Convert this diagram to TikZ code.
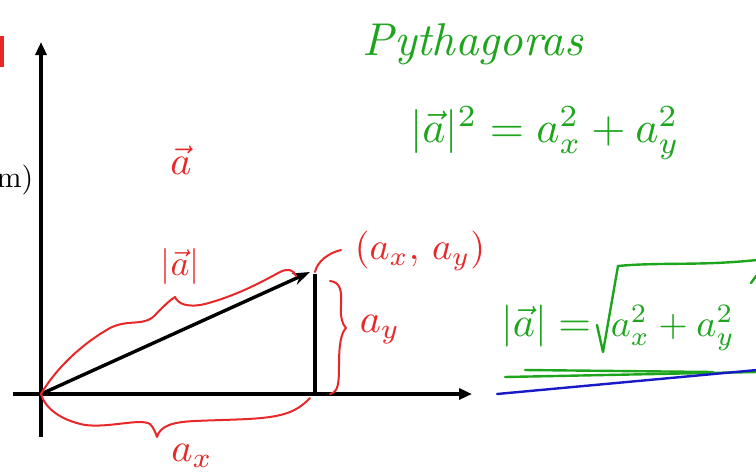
\documentclass[tikz,border=0pt]{standalone}
\usetikzlibrary{arrows.meta}
\definecolor{pen red}{RGB}{232,40,40}
\definecolor{pen green}{RGB}{30,165,30}
\definecolor{pen blue}{RGB}{25,25,200}
\begin{document}
\begin{tikzpicture}[x=1pt,y=-1pt,
  axis/.style={line width=3.4pt,-{Triangle[length=13pt,width=11pt]}},
  redline/.style={pen red,line width=2pt,line cap=round,line join=round},
  greenline/.style={pen green,line width=2.4pt,line cap=round,line join=round},
  redtxt/.style={text=pen red,inner sep=0pt},
  greentxt/.style={text=pen green,inner sep=0pt}]
\useasboundingbox (0,0) rectangle (756,475);
\fill[white] (0,0) rectangle (756,475);
% axes
\coordinate (O) at (41,394);
\coordinate (ybot) at (41,437);
\coordinate (ytop) at (41,42);
\coordinate (xleft) at (13,394);
\coordinate (xright) at (472,394);
\draw[axis] (ybot) -- (ytop);
\draw[axis] (xleft) -- (xright);
% vector and vertical component
\coordinate (P) at (310,272);
\coordinate (Q) at (315,274);
\coordinate (Qb) at (315,394);
\draw[line width=3.4pt,-{Stealth[length=17pt,width=12pt]}] (O) -- (P);
\draw[line width=3.4pt] (Q) -- (Qb);
% red brace above vector
\draw[redline] (O) .. controls (55,370) and (80,345) .. (110,328)
  .. controls (130,318) and (145,328) .. (157,313)
  .. controls (165,305) and (170,300) .. (175,297)
  .. controls (178,304) and (188,308) .. (205,304)
  .. controls (235,296) and (258,284) .. (280,272)
  .. controls (288,268) and (294,270) .. (296,276);
% red brace below x axis
\draw[redline] (O) .. controls (45,408) and (60,420) .. (85,425)
  .. controls (110,428) and (140,418) .. (150,424)
  .. controls (154,428) and (156,434) .. (157,437)
  .. controls (160,426) and (172,422) .. (195,421)
  .. controls (240,419) and (270,420) .. (290,412)
  .. controls (300,408) and (306,402) .. (310,398);
% red brace right of vertical line
\draw[redline] (330,281) .. controls (340,282) and (342,290) .. (341,305)
  .. controls (340,318) and (343,325) .. (346,328)
  .. controls (341,333) and (339,345) .. (339,365)
  .. controls (339,385) and (338,392) .. (330,394);
% curve to point label
\draw[redline] (315,272) .. controls (317,262) and (328,253) .. (341,250);
% red labels
\node[redtxt,scale=4] (avec) at (181,160) {$\vec{a}$};
\node[redtxt,scale=3.6] (amag) at (180,266) {$|\vec{a}|$};
\node[redtxt,scale=4] (ax) at (192,456) {$a_x$};
\node[redtxt,scale=4] (ay) at (380,330) {$a_y$};
\node[redtxt,scale=3.8] (pt) at (420,251) {$(a_x,\,a_y)$};
% red fragment at top left
\draw[pen red,line width=4pt] (1.5,36) -- (1.5,67);
% partial axis label at left
\node[inner sep=0pt,anchor=east,scale=3] (unit) at (34,180) {-\,m)};
% green text
\node[greentxt,scale=4.6,anchor=base west] (pyth) at (362,55) {\itshape Pythagoras};
\node[greentxt,scale=4.4] (eq1) at (545,133) {$|\vec{a}|^2 = a_x^2 + a_y^2$};
\node[greentxt,scale=4.2,anchor=east] (eq2l) at (592,326) {$|\vec{a}| =$};
\node[greentxt,scale=3.8,anchor=west] (eq2r) at (610,328) {$a_x^2 + a_y^2$};
% hand drawn radical
\draw[greenline] (597,325) -- (603,352) -- (618,266) .. controls (660,262) and (700,266) .. (757,260);
\draw[greenline] (751,283) -- (756,276);
% underlines
\draw[greenline] (505,377) -- (757,372);
\draw[greenline] (525,370) -- (713,372);
\draw[pen blue,line width=2.4pt,line cap=round] (497,394) -- (757,370);
\end{tikzpicture}
\end{document}
